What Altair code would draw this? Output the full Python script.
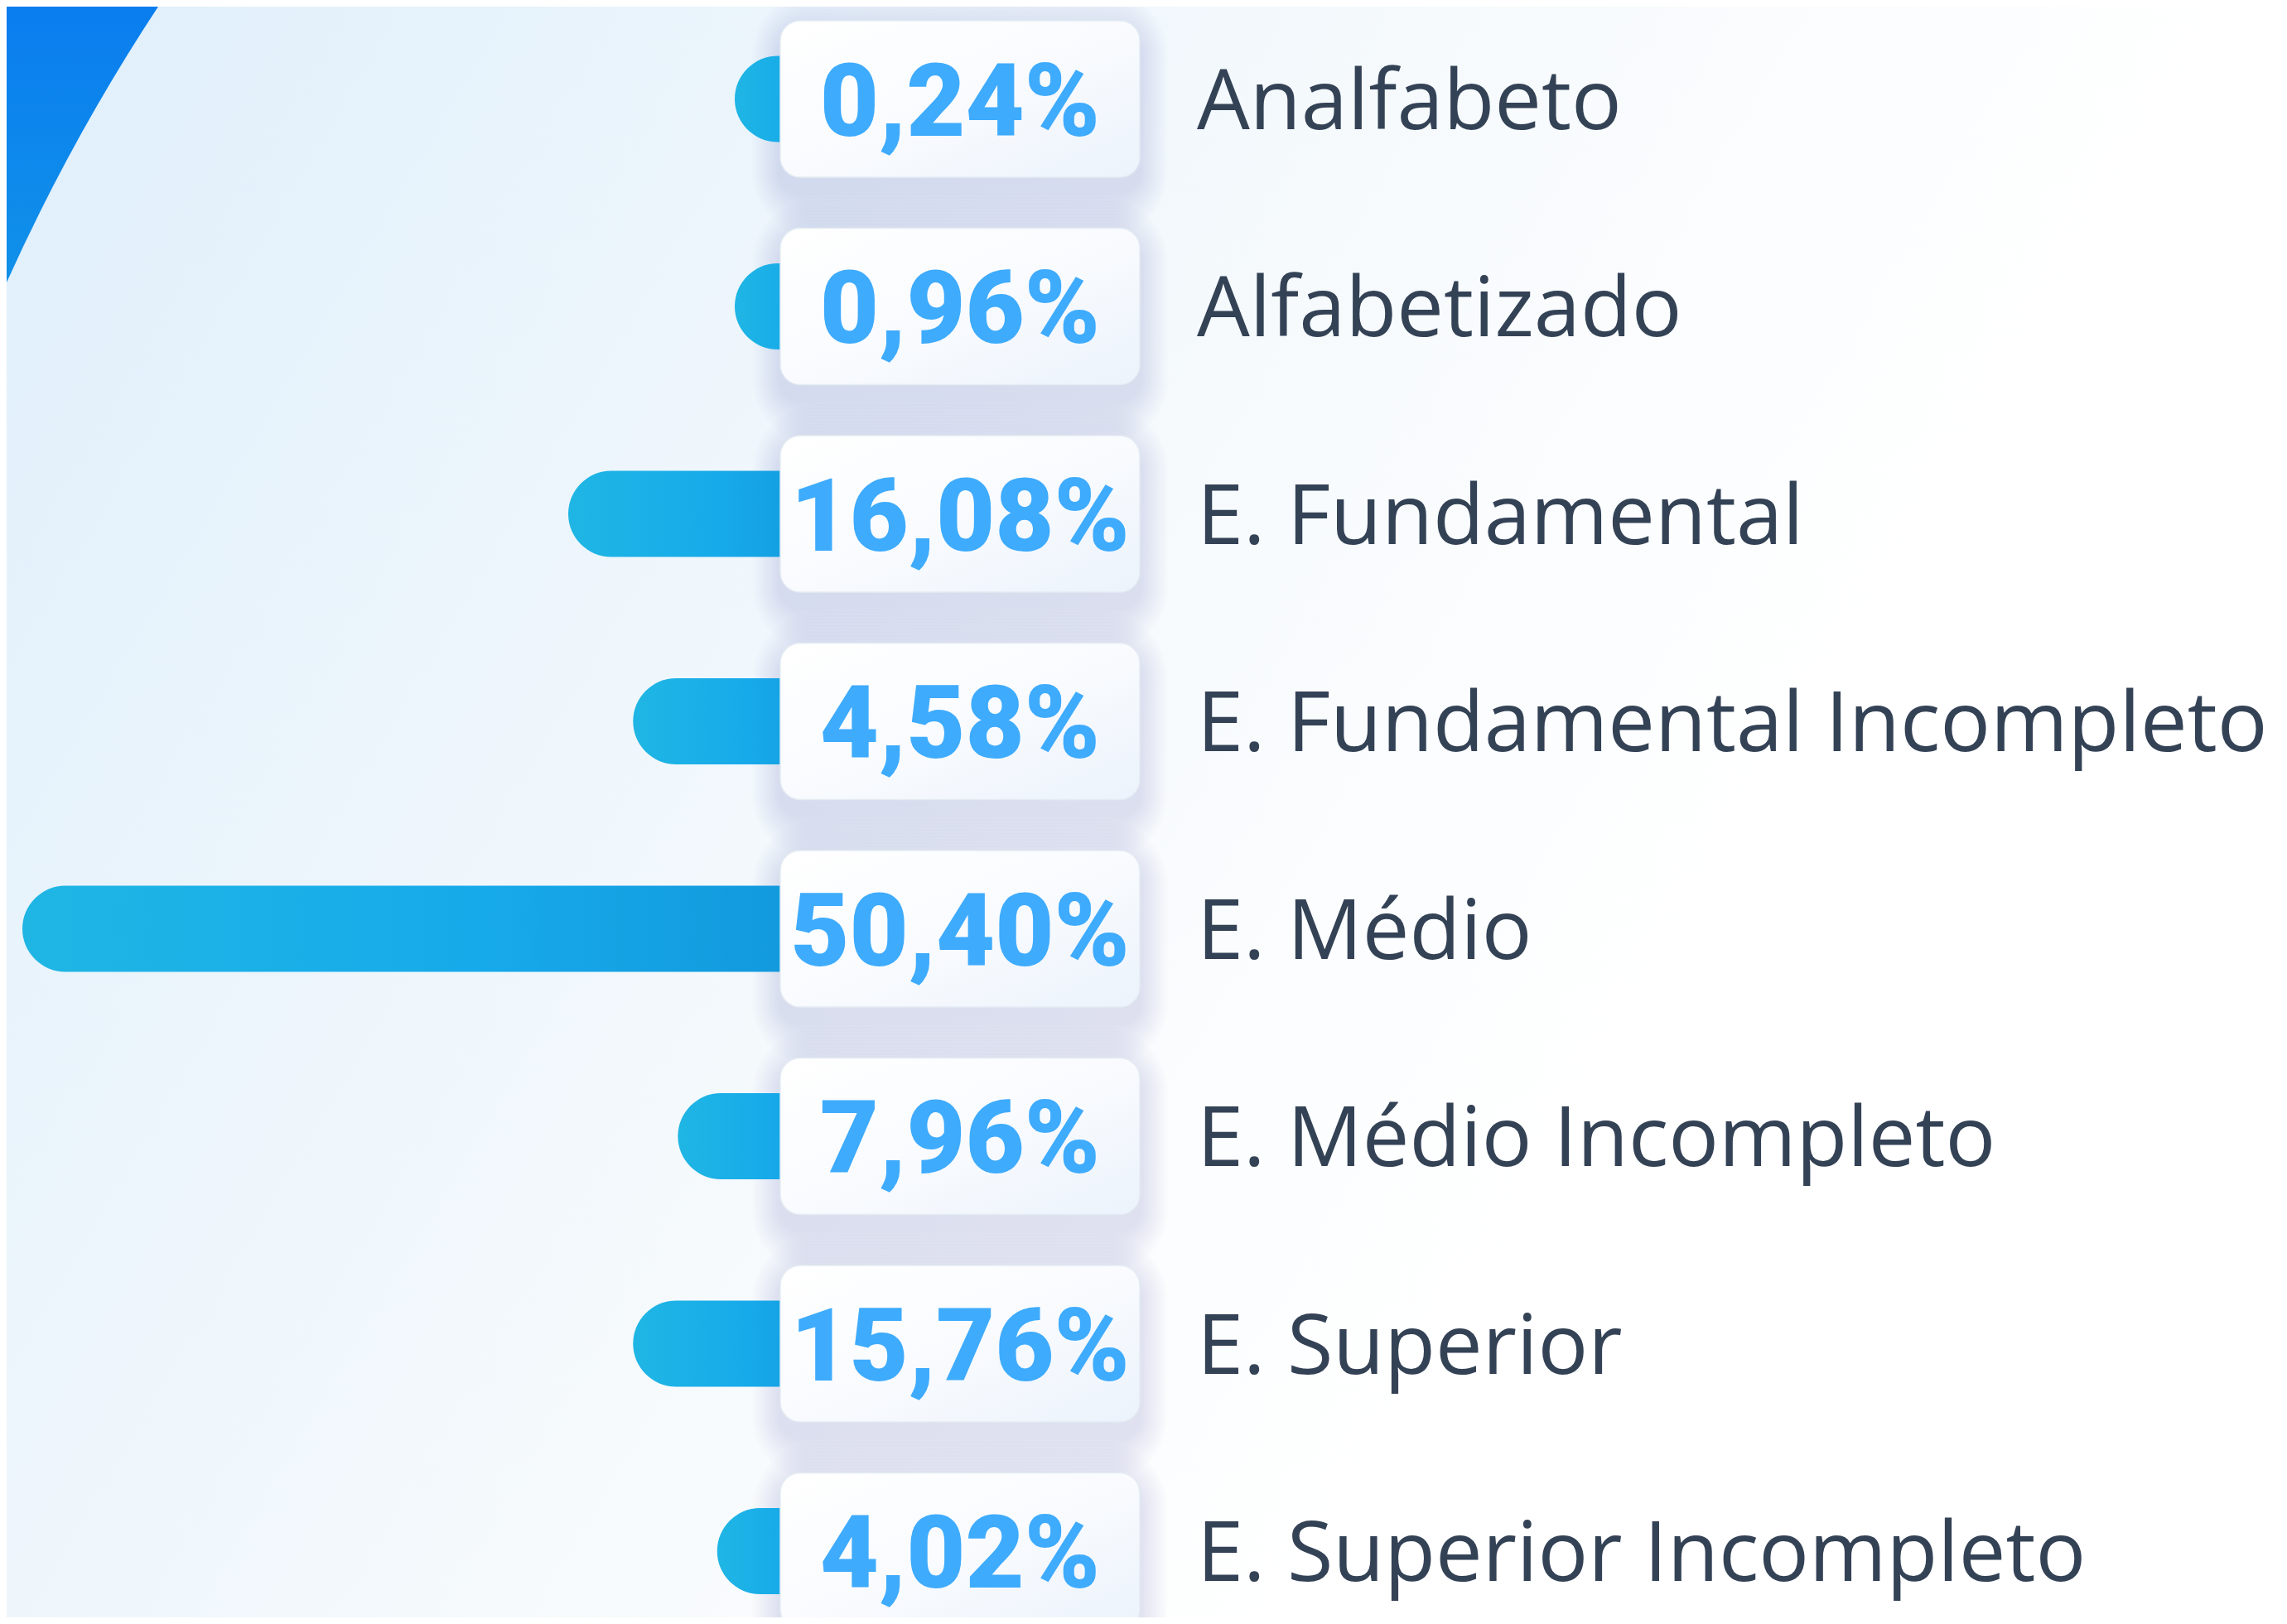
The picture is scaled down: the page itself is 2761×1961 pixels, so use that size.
import altair as alt
import pandas as pd

# ---- data ----
categories = [
    "Analfabeto",
    "Alfabetizado",
    "E. Fundamental",
    "E. Fundamental Incompleto",
    "E. Médio",
    "E. Médio Incompleto",
    "E. Superior",
    "E. Superior Incompleto",
]
percentages = [0.24, 0.96, 16.08, 4.58, 50.40, 7.96, 15.76, 4.02]
# visible bar lengths as drawn in the picture (same units as the percentages,
# longest bar = 50.40)
bar_lengths = [3.03, 3.03, 14.10, 9.79, 50.40, 6.81, 9.79, 4.20]

df = pd.DataFrame({
    "category": categories,
    "value": percentages,
    "bar": bar_lengths,
})
df["label"] = df["value"].map(lambda v: f"{v:.2f}".replace(".", ",") + "%")

W, H = 2745, 1945
PX = 18.155  # pixels per unit on x
X0 = 934     # pixel of unit 0 (left edge of value boxes)
x_scale = alt.Scale(domain=[(X0 - W) / PX, X0 / PX], reverse=True, nice=False, zero=False)
y_scale = alt.Scale(range=[-13.75, 1990.25], paddingInner=0, paddingOuter=0)

Y = alt.Y("category:N", sort=categories, scale=y_scale, axis=None)

BOX_W = 434 / PX
BOX_H = 189

one = pd.DataFrame({"a": [0]})

background = alt.Chart(one).mark_rect(
    fill=alt.Gradient(
        gradient="linear", x1=0, y1=0, x2=1, y2=0.42,
        stops=[
            alt.GradientStop(color="#dfeffb", offset=0),
            alt.GradientStop(color="#eef6fc", offset=0.35),
            alt.GradientStop(color="#f8fbfd", offset=0.6),
            alt.GradientStop(color="#ffffff", offset=0.85),
        ],
    )
).encode(x=alt.value(0), x2=alt.value(W), y=alt.value(0), y2=alt.value(H))

corner = alt.Chart(one).mark_arc(
    theta=4.97, theta2=5.50, radius=2700, radius2=2370,
    fill=alt.Gradient(
        gradient="linear", x1=0, y1=0, x2=0, y2=1,
        stops=[
            alt.GradientStop(color="#0a7def", offset=0.46),
            alt.GradientStop(color="#1194e8", offset=0.76),
        ],
    ),
).encode(x=alt.value(2162), y=alt.value(1304))

base = alt.Chart(df)

shadows = []
for s in range(4, 60, 4):
    shadows.append(
        base.mark_bar(
            size=BOX_H + 2 * s, cornerRadius=24 + s, color="#8c98a4",
            opacity=0.017, yOffset=18,
        ).encode(
            x=alt.X("xs:Q", scale=x_scale, axis=None),
            x2="xs2:Q",
            y=Y,
        ).transform_calculate(xs=f"{0.6 * s / PX}", xs2=f"{-BOX_W - 0.6 * s / PX}")
    )

bars = base.mark_bar(
    size=104, cornerRadius=52,
    color=alt.Gradient(
        gradient="linear", x1=0, y1=0, x2=1, y2=0,
        stops=[
            alt.GradientStop(color="#1fb6e4", offset=0),
            alt.GradientStop(color="#17aaea", offset=0.55),
            alt.GradientStop(color="#1197db", offset=1),
        ],
    ),
).encode(
    x=alt.X("bar:Q", scale=x_scale, axis=None),
    x2=alt.datum(-4),
    y=Y,
)

boxes = base.mark_bar(
    size=BOX_H, cornerRadius=24, stroke="#e4ebf2", strokeWidth=1.5,
    color=alt.Gradient(
        gradient="linear", x1=0, y1=0, x2=1, y2=1,
        stops=[
            alt.GradientStop(color="#ffffff", offset=0),
            alt.GradientStop(color="#f9fbfe", offset=0.5),
            alt.GradientStop(color="#ecf3fc", offset=1),
        ],
    ),
).encode(
    x=alt.X("b0:Q", scale=x_scale, axis=None),
    x2="b1:Q",
    y=Y,
).transform_calculate(b0="0", b1=f"{-BOX_W}")

values = base.mark_text(
    font="Roboto", fontWeight=900, fontSize=123, color="#3eabfd",
    align="center", baseline="alphabetic", dy=44,
).encode(
    x=alt.X("vx:Q", scale=x_scale, axis=None),
    y=Y,
    text="label:N",
).transform_calculate(vx=f"{-BOX_W / 2}")

labels = base.mark_text(
    font="Open Sans", fontWeight=400, fontSize=101, color="#344256",
    align="left", baseline="alphabetic", dy=36,
).encode(
    x=alt.X("lx:Q", scale=x_scale, axis=None),
    y=Y,
    text="category:N",
).transform_calculate(lx=f"{(X0 - 1437) / PX}")

chart = alt.layer(
    background, corner, *shadows, bars, boxes, values, labels
).properties(
    width=W, height=H, padding=0,
    autosize=alt.AutoSizeParams(type="none"),
    background="#ffffff",
).configure_view(stroke=None)

chart.save("out.html", embed_options={"renderer": "svg", "actions": False})
